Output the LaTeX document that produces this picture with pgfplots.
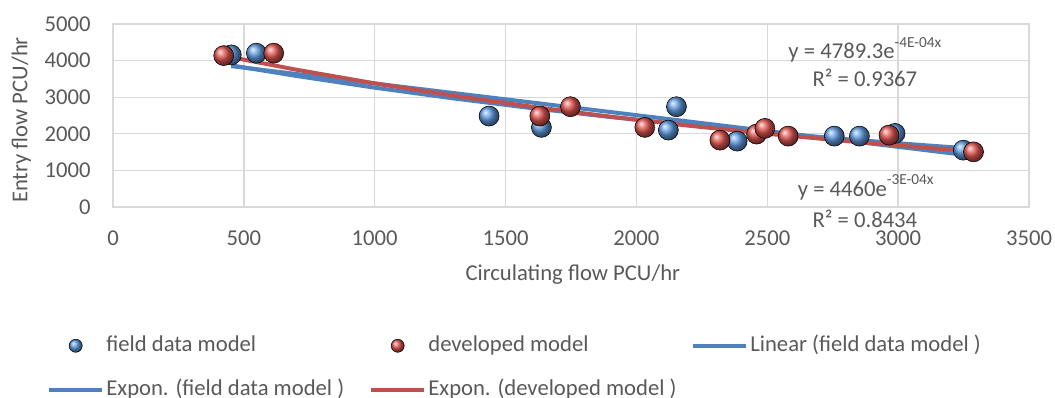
\documentclass[border=0pt]{standalone}
\usepackage{fontspec}
\setmainfont{Carlito}
\usepackage{pgfplots}
\pgfplotsset{compat=1.18}
\definecolor{fblue}{RGB}{79,129,189}
\definecolor{dred}{RGB}{192,80,77}
\definecolor{fballc}{RGB}{95,155,225}
\definecolor{dballc}{RGB}{225,85,80}
\definecolor{gridc}{RGB}{217,217,217}
\definecolor{txt}{RGB}{89,89,89}
\pgfplotsset{
 ballleg/.style={legend image code/.code={\path (0pt,0pt) (40pt,0pt); \draw[#1, mark size=4.9pt] plot coordinates {(20pt,0pt)};}},
 lineleg/.style={legend image code/.code={\draw[#1] (0pt,0pt) -- (40pt,0pt);}},
}
\begin{document}
\fontsize{17}{20}\selectfont
\begin{tikzpicture}
\begin{axis}[
 scale only axis, width=687pt, height=137.25pt,
 xmin=0, xmax=3500, ymin=0, ymax=5000,
 xtick={0,500,...,3500}, ytick={0,1000,...,5000},
 grid=major, major grid style={draw=gridc, line width=1pt},
 axis line style={draw=gridc, line width=1pt},
 major tick length=0pt,
 tick label style={text=txt, font=\fontsize{17}{20}\selectfont},
 /pgf/number format/assume math mode=true,
 /pgf/number format/1000 sep={},
 scaled ticks=false,
 xticklabel style={yshift=-12pt},
 yticklabel style={xshift=-11pt},
 xlabel={Circulating flow PCU/hr}, ylabel={Entry flow PCU/hr},
 xlabel style={at={(axis description cs:0.502,-0.372)}, anchor=center, text=txt},
 ylabel style={at={(axis description cs:-0.1,0.475)}, anchor=center, text=txt},
 clip=false,
 legend columns=3,
 legend cell align=left,
 legend style={at={(axis description cs:-0.072,-0.70)}, anchor=north west, draw=none, fill=none,
   inner sep=0pt, outer sep=0pt, row sep=17pt,
   nodes={inner sep=0pt, text height=12pt, text depth=4pt, text=txt},
   /tikz/every odd column/.append style={column sep=1.5pt}},
]
% field data
\addplot[only marks, mark=ball, mark size=7.5pt, ball color=fballc, ballleg]
 table {
x y
452 4156
548 4203
1437 2485
1637 2175
2122 2101
2153 2740
2385 1800
2756 1937
2852 1937
2988 2011
3249 1553
};
\addlegendentry{\makebox[197pt][l]{field data model}}
% developed model
\addplot[only marks, mark=ball, mark size=7.5pt, ball color=dballc, ballleg]
 table {
x y
423 4137
614 4203
1631 2485
1748 2740
2032 2175
2319 1827
2459 1992
2491 2148
2580 1937
2965 1964
3288 1507
};
\addlegendentry{\makebox[197pt][l]{developed model}}
% linear trend (field)
\addplot[fblue, line width=3pt, no marks, lineleg]
 coordinates {(452,3849) (3249,1428)};
\addlegendentry{\makebox[197pt][l]{Linear (field data model )}}
% exponential trend (field)
\addplot[fblue, line width=3pt, no marks, lineleg]
 coordinates {(452,3870) (700,3581) (1000,3260) (1300,2968) (1600,2701) (1900,2459) (2200,2238) (2500,2037) (2800,1854) (3100,1688) (3249,1611)};
\addlegendentry{\makebox[197pt][l]{Expon. (field data model )}}
% exponential trend (developed)
\addplot[dred, line width=3pt, no marks, lineleg]
 coordinates {(423,4132) (700,3752) (1000,3378) (1300,3043) (1600,2740) (1900,2468) (2200,2222) (2500,2001) (2800,1803) (3100,1623) (3288,1520)};
\addlegendentry{\makebox[197pt][l]{Expon. (developed model )}}
\node[text=txt] at (axis cs:2873,4293) {y = 4789.3e\raisebox{0.5em}{\fontsize{11.5}{11.5}\selectfont -4E-04x}};
\node[text=txt] at (axis cs:2873,3526) {R² = 0.9367};
\node[text=txt] at (axis cs:2876,540) {y = 4460e\raisebox{0.5em}{\fontsize{11.5}{11.5}\selectfont -3E-04x}};
\node[text=txt] at (axis cs:2873,-315) {R² = 0.8434};
\end{axis}
\pgfresetboundingbox
\path[use as bounding box] (-84.75pt,-143.25pt) rectangle (706.5pt,155.25pt);
\end{tikzpicture}
\end{document}
